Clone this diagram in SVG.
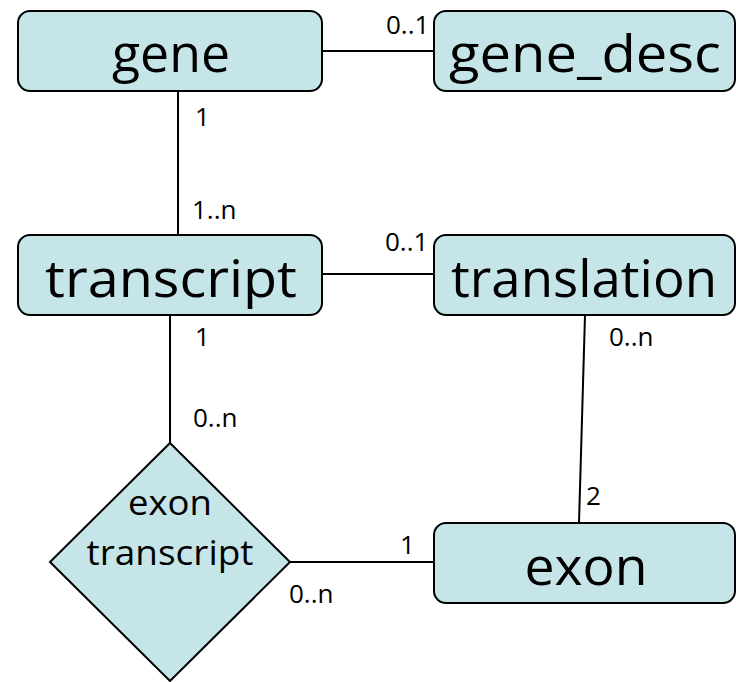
<svg xmlns="http://www.w3.org/2000/svg" width="736" height="682" viewBox="0 0 736 682">
<style>
.box{fill:#c6e5e8;stroke:#000;stroke-width:2}
.big{font-family:"Open Sans","Liberation Sans",sans-serif;font-size:51px;fill:#000;text-anchor:middle}
.mid{font-family:"Open Sans","Liberation Sans",sans-serif;font-size:34px;fill:#000;text-anchor:middle}
.lbl{font-family:"Open Sans","Liberation Sans",sans-serif;font-size:26px;fill:#000}
.conn line{stroke:#000;stroke-width:2}
</style>
<rect width="736" height="682" fill="#fff"/>
<g id="connectors" class="conn">
<line x1="322" y1="51" x2="434" y2="51"/>
<line x1="178" y1="91" x2="178" y2="235"/>
<line x1="322" y1="274" x2="434" y2="274"/>
<line x1="170" y1="315" x2="170" y2="443"/>
<line x1="585" y1="315" x2="579" y2="523"/>
<line x1="290" y1="562" x2="434" y2="562"/>
</g>
<g id="labels">
<text class="lbl" x="386" y="34">0..1</text>
<text class="lbl" x="195" y="126">1</text>
<text class="lbl" x="192" y="219">1..n</text>
<text class="lbl" x="385" y="251">0..1</text>
<text class="lbl" x="195" y="346">1</text>
<text class="lbl" x="609" y="346">0..n</text>
<text class="lbl" x="193" y="427">0..n</text>
<text class="lbl" x="586" y="505">2</text>
<text class="lbl" x="400" y="554">1</text>
<text class="lbl" x="289" y="603">0..n</text>
</g>
<g id="gene">
<rect class="box" x="18" y="11" width="304" height="80" rx="12"/>
<text class="big" x="171" y="72" textLength="118" lengthAdjust="spacingAndGlyphs">gene</text>
</g>
<g id="gene_desc">
<rect class="box" x="434" y="11" width="301" height="80" rx="12"/>
<text class="big" x="585" y="72" textLength="272" lengthAdjust="spacingAndGlyphs">gene_desc</text>
</g>
<g id="transcript">
<rect class="box" x="18" y="235" width="304" height="80" rx="12"/>
<text class="big" x="171" y="297" textLength="252" lengthAdjust="spacingAndGlyphs">transcript</text>
</g>
<g id="translation">
<rect class="box" x="434" y="235" width="301" height="80" rx="12"/>
<text class="big" x="584" y="297" textLength="266" lengthAdjust="spacingAndGlyphs">translation</text>
</g>
<g id="exon">
<rect class="box" x="434" y="523" width="301" height="80" rx="12"/>
<text class="big" x="586" y="585" textLength="123" lengthAdjust="spacingAndGlyphs">exon</text>
</g>
<g id="exon_transcript">
<polygon class="box" points="170,443 290,562 170,681 50,562"/>
<text class="mid" x="170" y="515" textLength="84" lengthAdjust="spacingAndGlyphs">exon</text>
<text class="mid" x="170" y="565" textLength="167" lengthAdjust="spacingAndGlyphs">transcript</text>
</g>
</svg>
